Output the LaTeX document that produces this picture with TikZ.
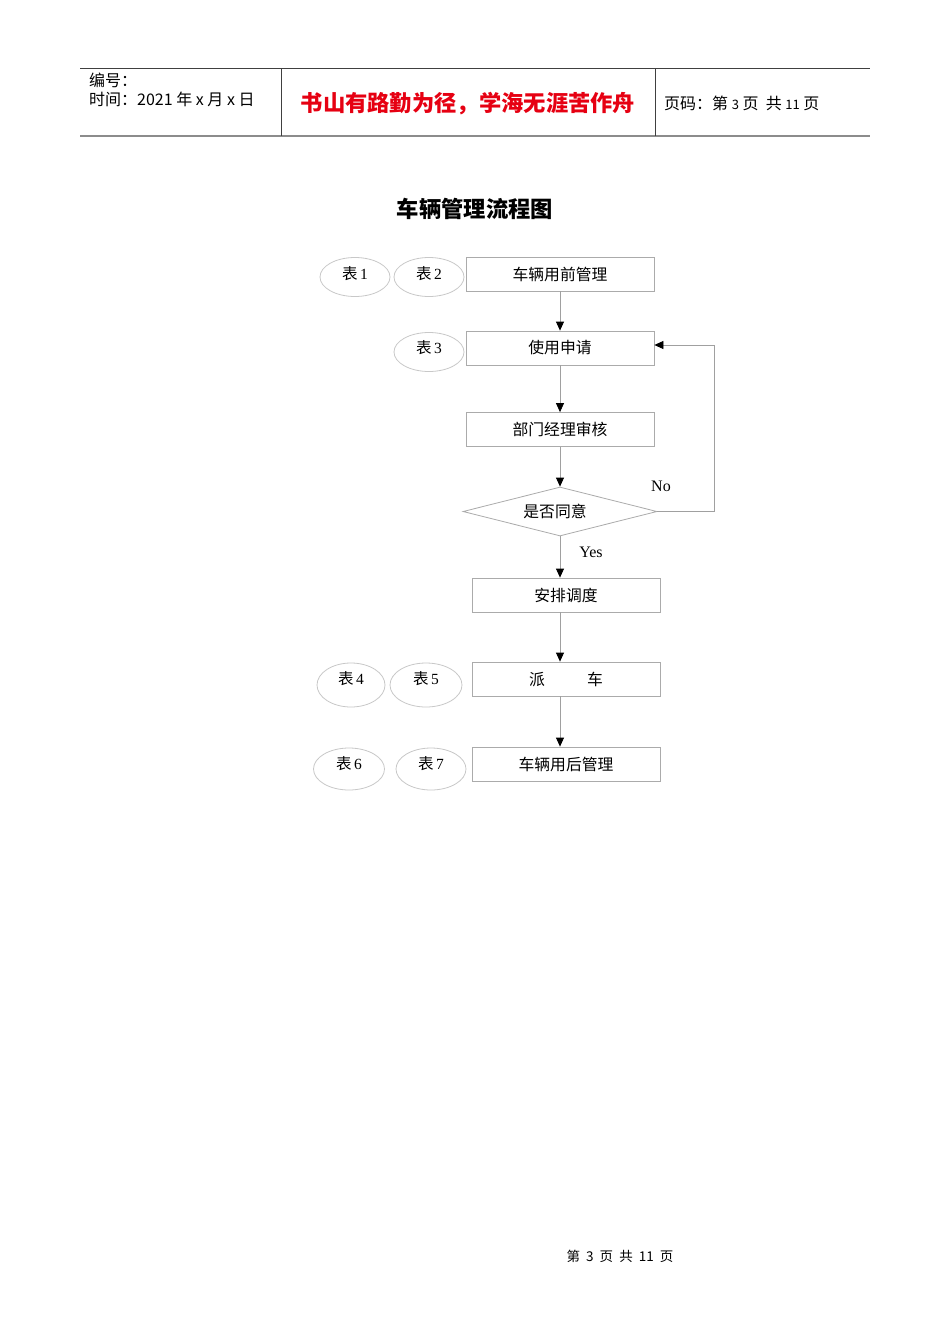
\documentclass[tikz,border=0pt]{standalone}
\usepackage{fontspec}
\setmainfont{Liberation Serif}
\newfontfamily\cjk{Noto Sans CJK SC}
\usetikzlibrary{arrows.meta,shapes.geometric}
\definecolor{boxgray}{HTML}{ABABAB}
\definecolor{ellgray}{HTML}{C8C8C8}
\definecolor{linegray}{HTML}{A0A0A0}
\definecolor{hdrred}{HTML}{E60012}
\definecolor{hdrdark}{HTML}{404040}
\definecolor{hdrgray}{HTML}{8C8C8C}
\newcommand{\formlabel}[2]{\raisebox{#1}[0pt][0pt]{{\cjk 表}\,#2}}
\begin{document}
\begin{tikzpicture}[x=1pt,y=-1pt,
  box/.style={draw=boxgray, line width=0.8pt, minimum width=188pt, minimum height=34pt, inner sep=0pt, font=\cjk\fontsize{15.8}{18}\selectfont},
  form/.style={ellipse, draw=ellgray, line width=0.8pt, minimum width=70pt, minimum height=39pt, inner sep=0pt, font=\fontsize{15.5}{17}\selectfont},
  decide/.style={diamond, draw=boxgray, line width=0.8pt, minimum width=194pt, minimum height=49pt, aspect=4, inner sep=0pt, font=\cjk\fontsize{15.8}{18}\selectfont},
  conn/.style={draw=linegray, line width=0.8pt, -{Triangle[width=8pt,length=9pt,color=black]}},
  hdrtext/.style={anchor=west, inner sep=0pt, font=\cjk\fontsize{16}{18}\selectfont},
  lbl/.style={inner sep=0pt, font=\fontsize{16}{18}\selectfont}
]
\useasboundingbox (0,0) rectangle (950,1344);
\fill[white] (0,0) rectangle (950,1344);

% header
\draw[hdrdark, line width=1pt] (80,68) -- (870,68);
\draw[hdrgray, line width=1.8pt] (80,136) -- (870,136);
\draw[hdrdark, line width=1pt] (281,68) -- (281,136);
\draw[hdrdark, line width=1pt] (655,68) -- (655,136);
\node[hdrtext] (hno) at (89,80) {编号：};
\node[hdrtext] (htime) at (89,99) {时间：2021 年 x 月 x 日};
\node[inner sep=0pt, text=hdrred, font=\cjk\bfseries\fontsize{22.3}{24}\selectfont] (motto) at (468,104) {书山有路勤为径，学海无涯苦作舟};
\node[hdrtext] (hpage) at (664,103) {页码：第 {\fontsize{13}{14}\selectfont 3} 页\ \ 共 {\fontsize{13}{14}\selectfont 11} 页};

% title
\node[inner sep=0pt, font=\cjk\bfseries\fontsize{22.3}{24}\selectfont] (title) at (475,209) {车辆管理流程图};

% boxes
\node[box] (b1) at (560,274) {车辆用前管理};
\node[box] (b2) at (560,348) {使用申请};
\node[box] (b3) at (560,429.5) {部门经理审核};
\node[decide] (dia) at (560,511.5) {\raisebox{-3pt}{是否同意\hspace{10pt}}};
\node[box] (b4) at (566,595) {安排调度};
\node[box] (b5) at (566,679) {派\hspace{42pt}车};
\node[box] (b6) at (566,764) {车辆用后管理};

% forms
\node[form] (f1) at (355,277) {\formlabel{-2pt}{1}};
\node[form] (f2) at (429,277) {\formlabel{-2pt}{2}};
\node[form] (f3) at (429,352) {\formlabel{-1pt}{3}};
\node[form, minimum width=68pt, minimum height=44pt] (f4) at (351,685) {\formlabel{0.5pt}{4}};
\node[form, minimum width=72pt, minimum height=44pt] (f5) at (426,685) {\formlabel{0.5pt}{5}};
\node[form, minimum width=71pt, minimum height=42pt] (f6) at (349,769) {\formlabel{-0.5pt}{6}};
\node[form, minimum width=70pt, minimum height=42pt] (f7) at (431,769) {\formlabel{-0.5pt}{7}};

% connectors
\draw[conn] (b1.south) -- (b2.north);
\draw[conn] (b2.south) -- (b3.north);
\draw[conn] (b3.south) -- (dia.north);
\draw[conn] (dia.south) -- (dia.south |- b4.north);
\draw[conn] (b4.south -| dia.south) -- (b5.north -| dia.south);
\draw[conn] (b5.south -| dia.south) -- (b6.north -| dia.south);
\draw[conn] (dia.east) -- ++(57,0) |- ([yshift=3pt]b2.east);

\node[lbl] (no) at (661,486) {No};
\node[lbl] (yes) at (591,552) {Yes};

% footer
\node[inner sep=0pt, font=\cjk\fontsize{13.5}{15}\selectfont] (foot) at (620,1256) {第\ \ 3\ \ 页\ \ 共\ \ 11\ \ 页};
\end{tikzpicture}
\end{document}
